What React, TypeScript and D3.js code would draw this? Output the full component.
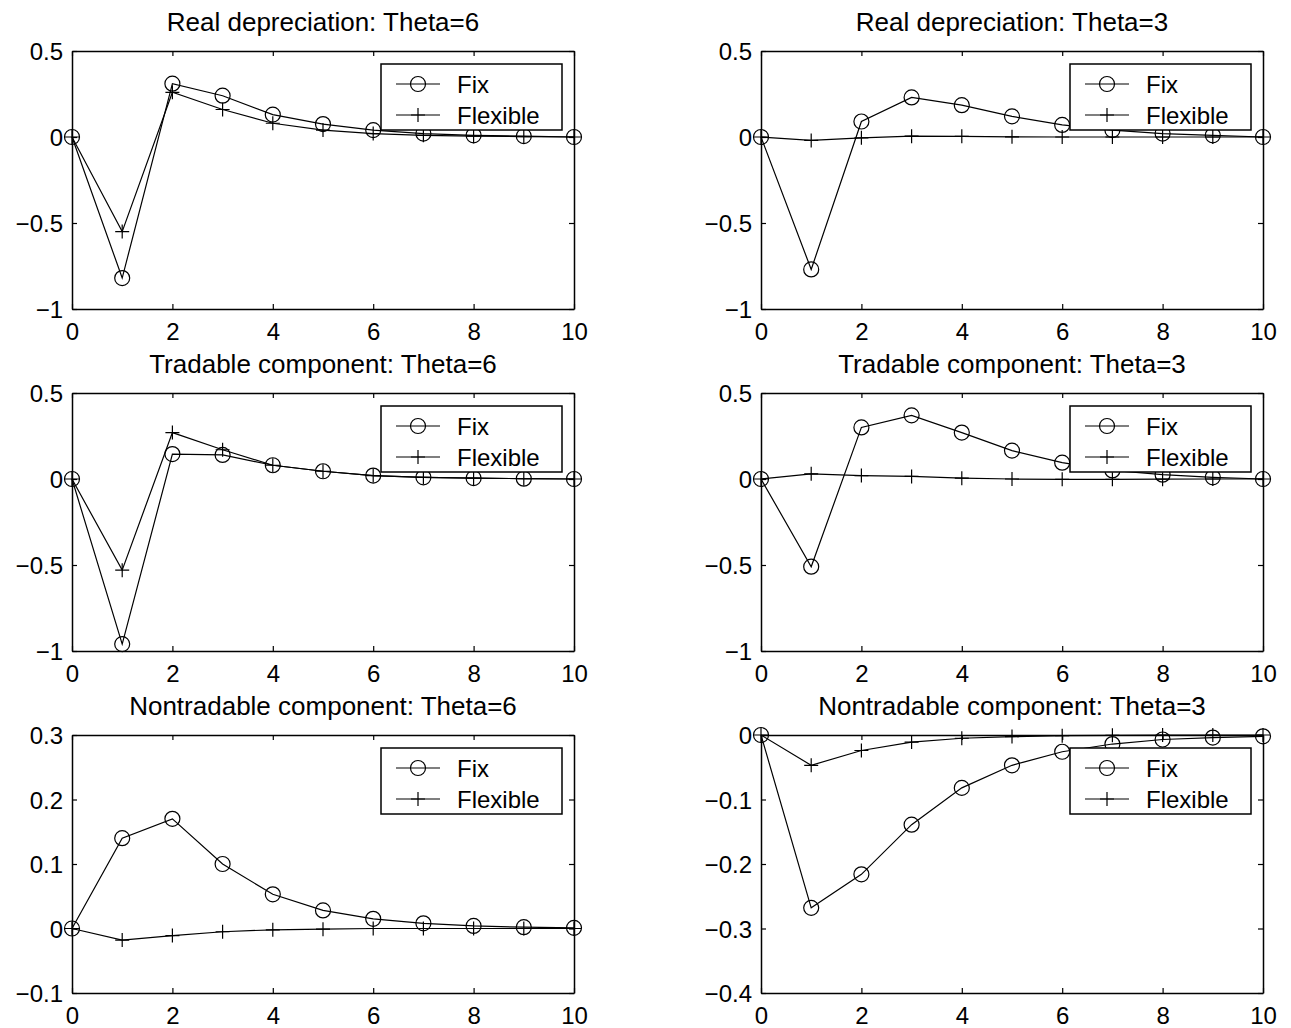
import React, { useEffect, useRef } from 'react';
import * as d3 from 'd3';

// periods after the shock
const periods = [0, 1, 2, 3, 4, 5, 6, 7, 8, 9, 10];

const realDepFixT6 = [0, -0.82, 0.31, 0.24, 0.13, 0.075, 0.04, 0.02, 0.01, 0.005, 0];
const realDepFlexT6 = [0, -0.55, 0.26, 0.16, 0.08, 0.04, 0.02, 0.01, 0.005, 0.002, 0];
const realDepFixT3 = [0, -0.77, 0.09, 0.23, 0.185, 0.12, 0.07, 0.04, 0.02, 0.01, 0];
const realDepFlexT3 = [0, -0.02, -0.005, 0.005, 0.004, 0.001, 0, 0, 0, 0, 0];
const tradFixT6 = [0, -0.96, 0.145, 0.14, 0.08, 0.045, 0.02, 0.01, 0.005, 0.002, 0];
const tradFlexT6 = [0, -0.53, 0.27, 0.17, 0.08, 0.045, 0.02, 0.01, 0.005, 0.002, 0];
const tradFixT3 = [0, -0.51, 0.3, 0.37, 0.27, 0.165, 0.095, 0.05, 0.025, 0.01, 0];
const tradFlexT3 = [0, 0.03, 0.02, 0.015, 0.005, 0, -0.002, -0.002, -0.001, 0, 0];
const nontradFixT6 = [0, 0.14, 0.17, 0.1, 0.053, 0.028, 0.015, 0.008, 0.004, 0.002, 0.001];
const nontradFlexT6 = [0, -0.018, -0.011, -0.005, -0.002, -0.001, 0, 0, 0, 0, 0];
const nontradFixT3 = [0, -0.268, -0.216, -0.139, -0.082, -0.047, -0.026, -0.014, -0.007, -0.004, -0.002];
const nontradFlexT3 = [0, -0.047, -0.024, -0.011, -0.005, -0.0025, -0.001, -0.0005, 0, 0, 0];

const titles = [
  'Real depreciation: Theta=6',
  'Real depreciation: Theta=3',
  'Tradable component: Theta=6',
  'Tradable component: Theta=3',
  'Nontradable component: Theta=6',
  'Nontradable component: Theta=3',
];

const xTicks = [0, 2, 4, 6, 8, 10];
const wideYTicks = [-1, -0.5, 0, 0.5];
const nontradT6Ticks = [-0.1, 0, 0.1, 0.2, 0.3];
const nontradT3Ticks = [-0.4, -0.3, -0.2, -0.1, 0];
const legendLabels = ['Fix', 'Flexible'];

const panels = [
  { title: titles[0], fix: realDepFixT6, flex: realDepFlexT6, ticks: wideYTicks },
  { title: titles[1], fix: realDepFixT3, flex: realDepFlexT3, ticks: wideYTicks },
  { title: titles[2], fix: tradFixT6, flex: tradFlexT6, ticks: wideYTicks },
  { title: titles[3], fix: tradFixT3, flex: tradFlexT3, ticks: wideYTicks },
  { title: titles[4], fix: nontradFixT6, flex: nontradFlexT6, ticks: nontradT6Ticks },
  { title: titles[5], fix: nontradFixT3, flex: nontradFlexT3, ticks: nontradT3Ticks },
];

const fmt = (d: number) => (d < 0 ? '\u2212' + String(Math.abs(d)) : String(d));

const App = () => {
  const svgRef = useRef<SVGSVGElement>(null);

  useEffect(() => {
    const svg = d3.select(svgRef.current);
    svg.selectAll('*').remove();

    const width = 1291;
    const height = 1028;
    const colLeft = [72, 761];
    const rowTop = [51, 393, 735];
    const plotW = 502;
    const plotH = 258;
    const font = 'Liberation Sans, Arial, Helvetica, sans-serif';
    const r = 7.5; // circle radius
    const p2 = 7; // half-size of plus marker

    svg.attr('width', width).attr('height', height);
    svg.append('rect').attr('width', width).attr('height', height).attr('fill', '#fff');

    const plus = (cx: number, cy: number) => `M${cx - p2},${cy}H${cx + p2}M${cx},${cy - p2}V${cy + p2}`;

    panels.forEach((p, i) => {
      const left = colLeft[i % 2];
      const top = rowTop[Math.floor(i / 2)];
      const g = svg.append('g').attr('transform', `translate(${left},${top})`);

      const x = d3.scaleLinear().domain([0, 10]).range([0, plotW]);
      const y = d3.scaleLinear()
        .domain([p.ticks[0], p.ticks[p.ticks.length - 1]])
        .range([plotH, 0]);

      // box with inward ticks on all four sides
      const bottom = g.append('g').attr('transform', `translate(0,${plotH})`)
        .call(d3.axisBottom(x).tickValues(xTicks).tickSizeInner(-5).tickSizeOuter(0).tickPadding(14).tickFormat(d => fmt(+d)));
      const leftAx = g.append('g')
        .call(d3.axisLeft(y).tickValues(p.ticks).tickSizeInner(-5).tickSizeOuter(0).tickPadding(9).tickFormat(d => fmt(+d)));
      g.append('g').call(d3.axisTop(x).tickValues(xTicks).tickSizeInner(-5).tickSizeOuter(0).tickFormat(() => ''));
      g.append('g').attr('transform', `translate(${plotW},0)`)
        .call(d3.axisRight(y).tickValues(p.ticks).tickSizeInner(-5).tickSizeOuter(0).tickFormat(() => ''));

      g.selectAll('.domain').attr('stroke', '#000').attr('stroke-width', 1.5);
      g.selectAll('.tick line').attr('stroke', '#000').attr('stroke-width', 1.2);
      g.selectAll('.tick text').attr('font-family', font).attr('font-size', 24).attr('fill', '#000');
      bottom.selectAll('.tick text').attr('dy', '0.71em');
      leftAx.selectAll('.tick text').attr('dy', '0.36em');

      g.append('text')
        .attr('x', plotW / 2)
        .attr('y', -20)
        .attr('text-anchor', 'middle')
        .attr('font-family', font)
        .attr('font-size', 26)
        .text(p.title);

      const line = d3.line<number>()
        .x((d, k) => x(periods[k]))
        .y(d => y(d));

      // Fix: circles
      g.append('path').datum(p.fix).attr('d', line)
        .attr('fill', 'none').attr('stroke', '#000').attr('stroke-width', 1.2);
      g.selectAll('.fixm').data(p.fix).enter().append('circle')
        .attr('class', 'fixm')
        .attr('cx', (d, k) => x(periods[k]))
        .attr('cy', d => y(d))
        .attr('r', r)
        .attr('fill', 'none').attr('stroke', '#000').attr('stroke-width', 1.2);

      // Flexible: plus signs
      g.append('path').datum(p.flex).attr('d', line)
        .attr('fill', 'none').attr('stroke', '#000').attr('stroke-width', 1.2);
      g.selectAll('.flexm').data(p.flex).enter().append('path')
        .attr('class', 'flexm')
        .attr('d', (d, k) => plus(x(periods[k]), y(d)))
        .attr('stroke', '#000').attr('stroke-width', 1.2);

      // legend, top right with white background
      const lg = g.append('g').attr('transform', `translate(${plotW - 12 - 181},13)`);
      lg.append('rect').attr('width', 181).attr('height', 66)
        .attr('fill', '#fff').attr('stroke', '#000').attr('stroke-width', 1.5);
      legendLabels.forEach((lab, j) => {
        const ly = 20 + j * 31;
        lg.append('line').attr('x1', 15).attr('x2', 59).attr('y1', ly).attr('y2', ly)
          .attr('stroke', '#000').attr('stroke-width', 1.2);
        if (j === 0) {
          lg.append('circle').attr('cx', 37).attr('cy', ly).attr('r', r)
            .attr('fill', 'none').attr('stroke', '#000').attr('stroke-width', 1.2);
        } else {
          lg.append('path').attr('d', plus(37, ly))
            .attr('stroke', '#000').attr('stroke-width', 1.2);
        }
        lg.append('text').attr('x', 76).attr('y', ly).attr('dy', '0.36em')
          .attr('font-family', font).attr('font-size', 24).text(lab);
      });
    });
  }, []);

  return <svg ref={svgRef} style={{ position: 'absolute', left: 0, top: 0 }}></svg>;
};

export default App;
